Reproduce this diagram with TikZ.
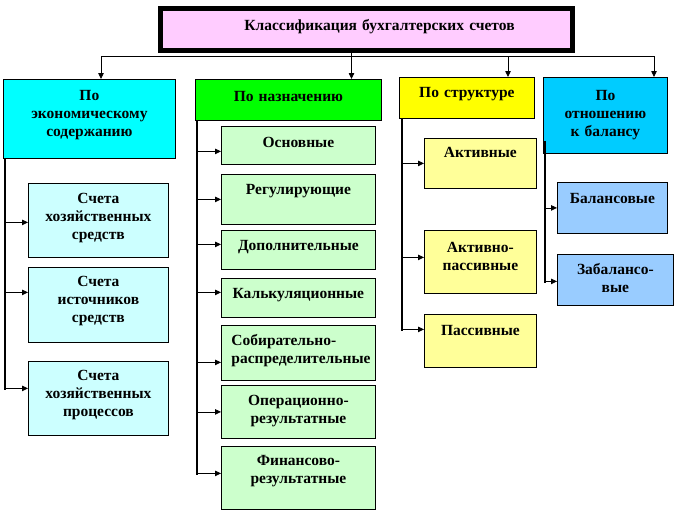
\documentclass[tikz,border=0pt]{standalone}
\usepackage{fontspec}
\setmainfont{Liberation Serif}
\usetikzlibrary{arrows.meta}

\begin{document}
\begin{tikzpicture}[x=1pt,y=-1pt,
    scatola/.style={draw=black,line width=.8pt,anchor=north west,inner sep=0pt,
      align=center,font=\fontsize{15.5}{18}\selectfont\bfseries},
    cella/.style n args={3}{text width=#1,text height=#2,text depth=#3},
    freccia/.style={line width=.8pt,-{Triangle[length=6pt,width=5.5pt]}},
    ramo/.style={line width=.8pt,{Triangle[length=6pt,width=5.5pt]}-},
    tronco/.style={line width=1.2pt}]
  \definecolor{contoRosa}{HTML}{FFCCFF}
  \definecolor{contoCiano}{HTML}{00FFFF}
  \definecolor{contoVerde}{HTML}{00FF00}
  \definecolor{contoGiallo}{HTML}{FFFF00}
  \definecolor{contoAzzurro}{HTML}{00CCFF}
  \definecolor{contoCianoChiaro}{HTML}{CCFFFF}
  \definecolor{contoVerdeChiaro}{HTML}{CCFFCC}
  \definecolor{contoGialloChiaro}{HTML}{FFFF99}
  \definecolor{contoAzzurroChiaro}{HTML}{99CCFF}
  \useasboundingbox (0,0) rectangle (675,512);

  % Titolo con cornice doppia.
  \node[scatola,fill=contoRosa,line width=5pt,cella={412pt}{22.5pt}{19.5pt}]
    (titolo) at (157.5,5.5) {\hspace*{27pt}Классификация бухгалтерских счетов};
  \draw[line width=.9pt] ([shift={(4.5pt,-4.5pt)}]titolo.north west)
    rectangle ([shift={(-4.5pt,4.5pt)}]titolo.south east);

  % Quattro criteri di classificazione.
  \node[scatola,fill=contoCiano,cella={172pt}{21pt}{58pt}]
    (economico) at (3,79) {По\\экономическому\\содержанию};
  \node[scatola,fill=contoVerde,cella={186pt}{22pt}{19pt}]
    (scopo) at (195,79) {По назначению};
  \node[scatola,fill=contoGiallo,cella={135pt}{20pt}{21pt}]
    (struttura) at (399,77) {По структуре};
  \node[scatola,fill=contoAzzurro,cella={124pt}{23pt}{53pt}]
    (bilancio) at (543,77) {По\\отношению\\к балансу};

  \coordinate (discesa) at ([xshift=-14.5pt]titolo.south);
  \coordinate (busE) at (101,56);
  \coordinate (busS) at (508,56);
  \coordinate (busB) at (654,56);
  \draw[line width=.8pt] (busE) -- (busB);
  \draw[freccia] (discesa) -- (discesa |- scopo.north);
  \draw[freccia] (busE) -- (busE |- economico.north);
  \draw[freccia] (busS) -- (busS |- struttura.north);
  \draw[freccia] (busB) -- (busB |- bilancio.north);

  % Contenuto economico.
  \node[scatola,fill=contoCianoChiaro,cella={140pt}{20pt}{54pt}]
    (mezzi) at (28,183) {Счета\\хозяйственных\\средств};
  \node[scatola,fill=contoCianoChiaro,cella={140pt}{19pt}{56pt}]
    (fonti) at (28,267) {Счета\\источников\\средств};
  \node[scatola,fill=contoCianoChiaro,cella={140pt}{19pt}{55pt}]
    (processi) at (28,361) {Счета\\хозяйственных\\процессов};

  % Destinazione.
  \node[scatola,fill=contoVerdeChiaro,cella={154pt}{21pt}{17pt}]
    (base) at (221,126) {Основные};
  \node[scatola,fill=contoVerdeChiaro,cella={154pt}{20pt}{30pt}]
    (regola) at (221,174) {Регулирующие};
  \node[scatola,fill=contoVerdeChiaro,cella={154pt}{20pt}{19pt}]
    (aggiunta) at (221,230) {Дополнительные};
  \node[scatola,fill=contoVerdeChiaro,cella={154pt}{20pt}{19pt}]
    (calcolo) at (221,278) {Калькуляционные};
  \node[scatola,fill=contoVerdeChiaro,cella={134pt}{20pt}{35pt},
    inner xsep=10pt,align=left]
    (raccolta) at (221,325) {Собирательно-\\распределительные};
  \node[scatola,fill=contoVerdeChiaro,cella={154pt}{20pt}{33pt}]
    (operativi) at (221,385) {Операционно-\\результатные};
  \node[scatola,fill=contoVerdeChiaro,cella={154pt}{19pt}{44pt}]
    (finanziari) at (221,446) {Финансово-\\результатные};

  % Struttura.
  \node[scatola,fill=contoGialloChiaro,cella={112pt}{19pt}{31pt}]
    (attivi) at (424,138) {Активные};
  \node[scatola,fill=contoGialloChiaro,cella={112pt}{22pt}{41pt}]
    (misti) at (424,230) {Активно-\\пассивные};
  \node[scatola,fill=contoGialloChiaro,cella={112pt}{21pt}{32pt}]
    (passivi) at (424,314) {Пассивные};

  % Rapporto col bilancio.
  \node[scatola,fill=contoAzzurroChiaro,cella={110pt}{21pt}{30pt}]
    (patrimoniali) at (557,182) {Балансовые};
  \node[scatola,fill=contoAzzurroChiaro,cella={116pt}{20pt}{31pt}]
    (fuori) at (557,254) {Забалансо-\\вые};

  % Tronchi verticali e rami.
  \draw[tronco] ([xshift=2pt]economico.south west) -- ++(0,231);
  \draw[tronco] ([xshift=2pt]scopo.south west) -- ++(0,354);
  \draw[tronco] ([xshift=3pt]struttura.south west) -- ++(0,212);
  \draw[tronco] ([shift={(2pt,13pt)}]bilancio.south west) -- ++(0,142);
  \foreach \n/\dy in {mezzi/-2,fonti/12.5,processi/10}
    \draw[ramo] ([yshift=\dy pt]\n.west) -- ++(-23,0);
  \foreach \n/\dy in {base/-6,regola/0,aggiunta/5.5,calcolo/5.5,
                      raccolta/-9.5,operativi/0,finanziari/4.5}
    \draw[ramo] ([yshift=\dy pt]\n.west) -- ++(-24,0);
  \foreach \n/\dy in {attivi/0,misti/4.5,passivi/11.5}
    \draw[ramo] ([yshift=\dy pt]\n.west) -- ++(-22,0);
  \foreach \n/\dy in {patrimoniali/0,fuori/-1.5}
    \draw[ramo] ([yshift=\dy pt]\n.west) -- ++(-12,0);
\end{tikzpicture}
\end{document}
